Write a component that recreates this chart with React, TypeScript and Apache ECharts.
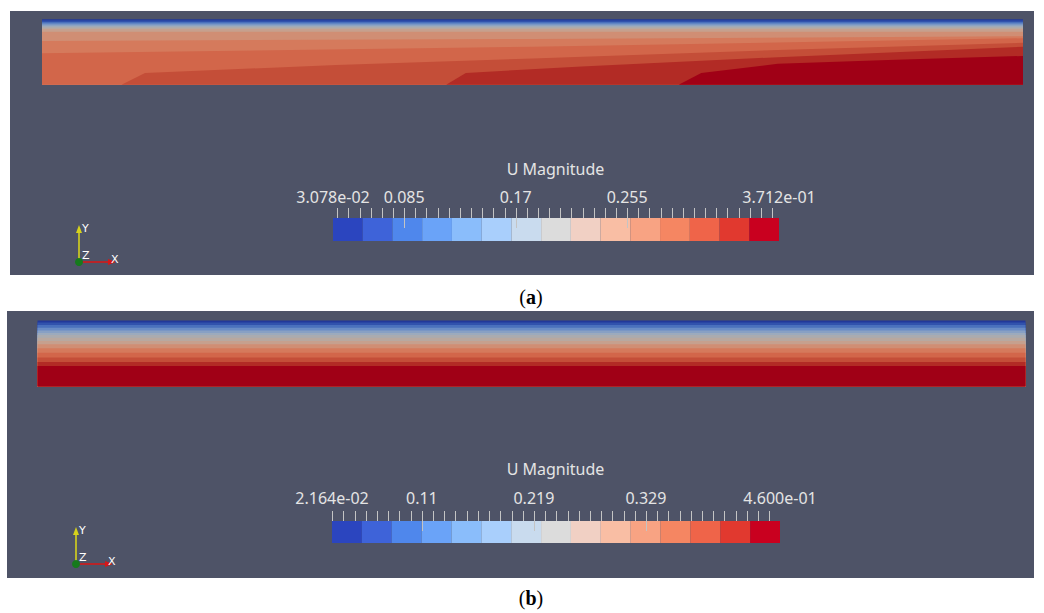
import React, { useEffect, useRef } from "react";
import * as echarts from "echarts";

// Discrete colour table used by both legends (15 bands, low -> high)
const bandColors = [
  "#2b45bf", "#3e63d9", "#4f87ec", "#6aa3f8", "#8abdfb",
  "#a9cffc", "#c9dbee", "#dcdcdc", "#f1d0c4", "#f9bea4",
  "#f8a383", "#f58662", "#ef6449", "#e1392f", "#c9001f",
];
// The same bands as they appear on the lit channel surface
const fieldColors = [
  "#22389a", "#3152ad", "#4a70bd", "#6a8cc6", "#88a0c4",
  "#9caabd", "#aaabb0", "#b8a8a0", "#c6a08e", "#d08e74",
  "#d57a5c", "#d2664a", "#c44e38", "#b22b25", "#a00016",
];

// Velocity-magnitude contours of case (a).
// Entry k is the upper edge of the region where U falls in band k or above,
// as [x / channel length, depth / channel height] points from left to right.
const contoursA: [number, number][][] = [
  [[0, 0], [1, 0]],
  [[0, 0.02], [1, 0.02]],
  [[0, 0.04], [1, 0.04]],
  [[0, 0.06], [1, 0.06]],
  [[0, 0.08], [1, 0.08]],
  [[0, 0.1], [1, 0.1]],
  [[0, 0.115], [1, 0.115]],
  [[0, 0.13], [1, 0.13]],
  [[0, 0.15], [1, 0.15]],
  [[0, 0.19], [1, 0.19]],
  [[0, 0.33], [0.5, 0.3], [1, 0.26]],
  [[0, 0.52], [0.5, 0.42], [1, 0.29]],
  [[0.081, 1], [0.105, 0.82], [0.3, 0.7], [0.5, 0.6], [0.75, 0.47], [1, 0.36]],
  [[0.412, 1], [0.432, 0.82], [0.55, 0.72], [0.75, 0.58], [1, 0.42]],
  [[0.649, 1], [0.672, 0.82], [0.75, 0.68], [0.87, 0.62], [1, 0.56]],
];

// Velocity-magnitude contours of case (b): fully developed, uniform along x
const depthsB = [0, 0.03, 0.07, 0.11, 0.15, 0.19, 0.22, 0.26, 0.31, 0.36, 0.42, 0.49, 0.56, 0.63, 0.69];

// Legend (a)
const rangeA = [0.03078, 0.3712];
const tickValuesA = [0.03078, 0.0851, 0.1702, 0.2553, 0.3712];
const tickLabelsA = ["3.078e-02", "0.085", "0.17", "0.255", "3.712e-01"];
const minorStepA = 0.00851;

// Legend (b)
const rangeB = [0.02164, 0.46];
const tickValuesB = [0.02164, 0.1096, 0.2192, 0.3288, 0.46];
const tickLabelsB = ["2.164e-02", "0.11", "0.219", "0.329", "4.600e-01"];
const minorStepB = 0.01096;

const PANEL_BG = "#4e5367";
const TEXT = "#e4e4e4";
const TICK = "#c4c4c4";
const FONT = '16px "Noto Sans", "Open Sans", sans-serif';

function fieldSeries(idx: number, contours: [number, number][][]) {
  return {
    type: "custom",
    xAxisIndex: idx,
    yAxisIndex: idx,
    silent: true,
    z: 3,
    data: contours.map((_, i) => [0.5, 0.5, i]),
    renderItem: (params: any, api: any) => {
      const pts = contours[params.dataIndex];
      const ring = [...pts, [1, 1], [pts[0][0], 1]].map((p) => api.coord(p));
      return {
        type: "polygon",
        shape: { points: ring },
        style: { fill: fieldColors[params.dataIndex], stroke: null },
      };
    },
  };
}

function legendSeries(
  idx: number,
  range: number[],
  tickValues: number[],
  tickLabels: string[],
  minorStep: number,
  labelOffset: number
) {
  const [lo, hi] = range;
  const bw = (hi - lo) / bandColors.length;
  const minor: number[] = [];
  for (let k = Math.ceil(lo / minorStep - 1e-6); k * minorStep <= hi + 1e-9; k++) minor.push(k * minorStep);
  const majors = tickValues.slice(1, -1);
  return [
    {
      type: "custom",
      xAxisIndex: idx,
      yAxisIndex: idx,
      silent: true,
      z: 3,
      data: bandColors.map((_, i) => [lo + (i + 0.5) * bw, 0.5, i]),
      renderItem: (params: any, api: any) => {
        const i = params.dataIndex;
        const a = api.coord([lo + i * bw, 1]);
        const b = api.coord([lo + (i + 1) * bw, 0]);
        return {
          type: "rect",
          shape: { x: a[0], y: a[1], width: b[0] - a[0], height: b[1] - a[1] },
          style: { fill: bandColors[i], stroke: null },
        };
      },
    },
    {
      type: "custom",
      xAxisIndex: idx,
      yAxisIndex: idx,
      silent: true,
      clip: false,
      z: 4,
      data: [...minor.map((v) => [v, 0.5, 0]), ...majors.map((v) => [v, 0.5, 1])],
      renderItem: (params: any, api: any) => {
        const p = api.coord([api.value(0), 1]);
        const x = Math.round(p[0]) + 0.5;
        const long = api.value(2) === 1;
        return {
          type: "line",
          shape: { x1: x, y1: p[1] - 10, x2: x, y2: p[1] + (long ? 10 : 0) },
          style: { stroke: TICK, lineWidth: 1 },
        };
      },
    },
    {
      type: "custom",
      xAxisIndex: idx,
      yAxisIndex: idx,
      silent: true,
      clip: false,
      z: 4,
      data: tickValues.map((v, i) => [v, 0.5, i]),
      renderItem: (params: any, api: any) => {
        const p = api.coord([api.value(0), 1]);
        return {
          type: "text",
          x: p[0],
          y: p[1] + labelOffset,
          style: {
            text: tickLabels[params.dataIndex],
            fill: TEXT,
            font: FONT,
            align: "center",
            verticalAlign: "middle",
            textAlign: "center",
            textVerticalAlign: "middle",
          },
        };
      },
    },
  ];
}

function triad(ox: number, oy: number) {
  const s = { fill: "#ffffff", font: '11px "DejaVu Sans", sans-serif' };
  return [
    { type: "line", shape: { x1: ox, y1: oy, x2: ox, y2: oy - 30 }, style: { stroke: "#d6d21c", lineWidth: 1.6 }, z: 10 },
    { type: "polygon", shape: { points: [[ox - 3, oy - 29], [ox + 3, oy - 29], [ox, oy - 37]] }, style: { fill: "#d6d21c" }, z: 10 },
    { type: "line", shape: { x1: ox, y1: oy, x2: ox + 30, y2: oy }, style: { stroke: "#d41818", lineWidth: 1.6 }, z: 10 },
    { type: "polygon", shape: { points: [[ox + 29, oy - 3], [ox + 29, oy + 3], [ox + 37, oy]] }, style: { fill: "#d41818" }, z: 10 },
    { type: "circle", shape: { cx: ox, cy: oy, r: 4 }, style: { fill: "#167a1c" }, z: 11 },
    { type: "text", x: ox + 3, y: oy - 39, style: { ...s, text: "Y" }, z: 11 },
    { type: "text", x: ox + 3, y: oy - 12, style: { ...s, text: "Z" }, z: 11 },
    { type: "text", x: ox + 32, y: oy - 8, style: { ...s, text: "X" }, z: 11 },
  ];
}

function caption(letter: string, cx: number, cy: number) {
  return {
    type: "text",
    x: cx,
    y: cy,
    z: 5,
    style: {
      text: `{p|(}{b|${letter}}{p|)}`,
      align: "center",
      verticalAlign: "middle",
      textAlign: "center",
      textVerticalAlign: "middle",
      rich: {
        p: { font: '20px "Liberation Serif", "DejaVu Serif", serif', fill: "#000" },
        b: { font: 'bold 20px "Liberation Serif", "DejaVu Serif", serif', fill: "#000" },
      },
    },
  };
}

export default function App() {
  const ref = useRef<HTMLDivElement>(null);

  useEffect(() => {
    if (!ref.current) return;
    const chart = echarts.init(ref.current, undefined, { renderer: "svg" });

    const contoursB: [number, number][][] = depthsB.map((d) => [[0, d], [1, d]] as [number, number][]);

    const grids = [
      { left: 42, top: 19.3, width: 981, height: 65.4 },
      { left: 37.5, top: 320.5, width: 988, height: 66 },
      { left: 333, top: 218, width: 446, height: 23 },
      { left: 332, top: 521, width: 448, height: 22 },
    ];
    const hidden = { show: false };
    const xAxes = [
      { type: "value", gridIndex: 0, min: 0, max: 1, ...hidden },
      { type: "value", gridIndex: 1, min: 0, max: 1, ...hidden },
      { type: "value", gridIndex: 2, min: rangeA[0], max: rangeA[1], ...hidden },
      { type: "value", gridIndex: 3, min: rangeB[0], max: rangeB[1], ...hidden },
    ];
    const yAxes = [
      { type: "value", gridIndex: 0, min: 0, max: 1, inverse: true, ...hidden },
      { type: "value", gridIndex: 1, min: 0, max: 1, inverse: true, ...hidden },
      { type: "value", gridIndex: 2, min: 0, max: 1, ...hidden },
      { type: "value", gridIndex: 3, min: 0, max: 1, ...hidden },
    ];

    chart.setOption({
      animation: false,
      backgroundColor: "#ffffff",
      grid: grids.map((g) => ({ ...g, containLabel: false })),
      xAxis: xAxes,
      yAxis: yAxes,
      graphic: {
        elements: [
          { type: "rect", shape: { x: 10, y: 11, width: 1024, height: 264 }, style: { fill: PANEL_BG }, z: 0 },
          { type: "rect", shape: { x: 7, y: 311, width: 1027, height: 267 }, style: { fill: PANEL_BG }, z: 0 },
          {
            type: "text", x: 555.5, y: 169, z: 5,
            style: { text: "U Magnitude", fill: TEXT, font: FONT, align: "center", verticalAlign: "middle", textAlign: "center", textVerticalAlign: "middle" },
          },
          {
            type: "text", x: 555.5, y: 469, z: 5,
            style: { text: "U Magnitude", fill: TEXT, font: FONT, align: "center", verticalAlign: "middle", textAlign: "center", textVerticalAlign: "middle" },
          },
          ...triad(79, 262),
          ...triad(76, 564),
          caption("a", 531, 297),
          caption("b", 531, 598),
        ],
      },
      series: [
        fieldSeries(0, contoursA),
        fieldSeries(1, contoursB),
        ...legendSeries(2, rangeA, tickValuesA, tickLabelsA, minorStepA, -21.5),
        ...legendSeries(3, rangeB, tickValuesB, tickLabelsB, minorStepB, -23),
      ],
    });

    return () => chart.dispose();
  }, []);

  return (
    <div
      ref={ref}
      style={{ position: "fixed", left: 0, top: 0, width: 1044, height: 613, background: "#fff" }}
    />
  );
}
